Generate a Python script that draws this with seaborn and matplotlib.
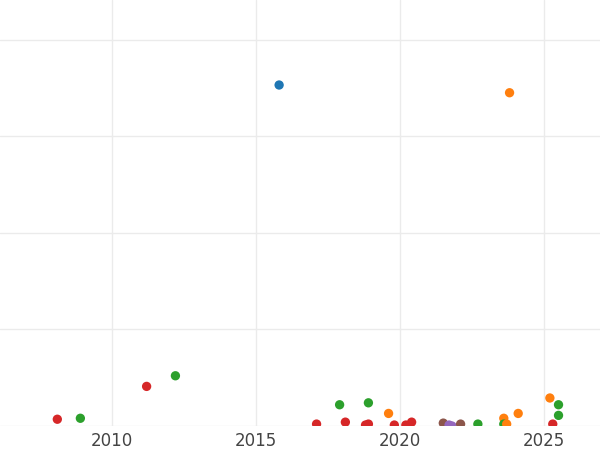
import matplotlib
matplotlib.use("Agg")
import matplotlib.pyplot as plt
import seaborn as sns
import pandas as pd

years = [2015.8, 2023.8, 2008.1, 2008.9, 2011.2, 2012.2, 2017.9, 2018.9, 2017.1, 2018.1,
         2018.9, 2018.8, 2019.6, 2019.8, 2020.2, 2020.4, 2021.5, 2021.7, 2021.8, 2022.1,
         2022.7, 2023.6, 2023.6, 2023.7, 2024.1, 2025.2, 2025.5, 2025.5, 2025.3]
values = [353, 345, 7, 8, 41, 52, 22, 24, 2, 4,
          2, 1, 13, 1, 1, 4, 3, 1, 0, 2,
          2, 8, 2, 2, 13, 29, 22, 11, 2]
groups = ["A", "B", "D", "C", "D", "C", "C", "C", "D", "D",
          "D", "D", "B", "D", "D", "D", "F", "E", "E", "F",
          "C", "B", "C", "B", "B", "B", "C", "C", "D"]

palette = {"A": "#1f77b4", "B": "#ff7f0e", "C": "#2ca02c",
           "D": "#d62728", "E": "#9467bd", "F": "#8c564b"}

df = pd.DataFrame({"year": years, "value": values, "group": groups})

sns.set_style("whitegrid")
fig = plt.figure(figsize=(6, 4.5), dpi=100)
ax = fig.add_axes([0, 24 / 450, 1, 426 / 450])
sns.scatterplot(data=df, x="year", y="value", hue="group", palette=palette,
                s=45, edgecolor="none", legend=False, ax=ax)

ax.set_xlim(2006.11, 2026.94)
ax.set_ylim(0, 441)
ax.set_xticks([2010, 2015, 2020, 2025])
ax.set_yticks([0, 100, 200, 300, 400])
ax.set_yticklabels([])
ax.set_xlabel("")
ax.set_ylabel("")
ax.tick_params(axis="x", labelsize=12, colors="#444444", pad=4, length=0)
ax.tick_params(axis="y", length=0)
ax.grid(color="#ebebeb", linewidth=1)
for s in ax.spines.values():
    s.set_visible(False)

fig.savefig("out.png", dpi=100)
